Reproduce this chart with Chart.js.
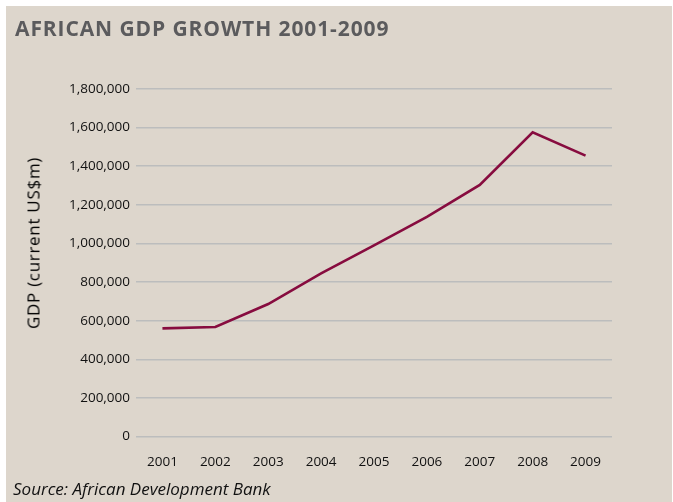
<!DOCTYPE html>
<html>
<head>
<meta charset="utf-8">
<script src="https://cdn.jsdelivr.net/npm/chart.js@4/dist/chart.umd.min.js"></script>
<style>
    html, body { margin: 0; padding: 0; background: #ffffff; }
    #wrap { position: relative; width: 673px; height: 502px; overflow: hidden; }
    #panel { position: absolute; left: 6px; top: 6px; right: 1px; bottom: 0; background: #ddd6cc; }
    #chart { position: absolute; left: 0; top: 0; }
    .title { position: absolute; left: 15px; top: 14px; font: bold 21px "Open Sans", sans-serif; color: #5b5b5d; letter-spacing: 0.9px; }
    .ytitle { position: absolute; left: 33px; top: 243px; font-family: "Open Sans", sans-serif; font-size: 17px; font-weight: normal;
              color: #000; letter-spacing: 0.7px; transform: translate(-50%, -50%) rotate(-90deg); white-space: nowrap; }
    .source { position: absolute; left: 13px; top: 480px; font: italic 17px/1 "Open Sans", sans-serif; color: #111; }
</style>
</head>
<body>
<div id="wrap">
    <div id="panel"></div>
    <canvas id="chart" width="673" height="502"></canvas>
    <div class="title">AFRICAN GDP GROWTH 2001-2009</div>
    <div class="ytitle">GDP (current US$m)</div>
    <div class="source">Source: African Development Bank</div>
</div>
<script>
    // years on the x axis
    var years = ['2001', '2002', '2003', '2004', '2005', '2006', '2007', '2008', '2009'];
    // GDP, current US$ millions
    var gdp = [560000, 567000, 686000, 845000, 990000, 1138000, 1303000, 1576000, 1455000];
    // y axis range
    var yMin = 0;
    var yMax = 1800000;
    var yStep = 200000;

    var ctx = document.getElementById('chart').getContext('2d');
    var chart = new Chart(ctx, {
        type: 'line',
        data: {
            labels: years,
            datasets: [{
                label: 'GDP',
                data: gdp,
                borderColor: '#870c3f',
                borderWidth: 2.6,
                pointRadius: 0,
                tension: 0,
                fill: false
            }]
        },
        options: {
            responsive: false,
            animation: false,
            layout: {
                padding: { left: 0, right: 61, top: 89, bottom: 20.5 }
            },
            plugins: {
                legend: { display: false },
                tooltip: { enabled: false }
            },
            scales: {
                x: {
                    offset: true,
                    border: { display: false },
                    grid: { display: false, drawTicks: false },
                    ticks: {
                        padding: 18,
                        color: '#111',
                        font: { family: 'Open Sans', size: 13.5 }
                    },
                    // labels are clipped to the scale box, so keep it tall enough
                    afterFit: function (scale) { scale.height = 45; }
                },
                y: {
                    min: yMin,
                    max: yMax,
                    border: { display: false },
                    grid: { color: '#bcbdbd', lineWidth: 1.5, drawTicks: false },
                    ticks: {
                        stepSize: yStep,
                        padding: 6,
                        color: '#111',
                        font: { family: 'Open Sans', size: 13.5 },
                        callback: function (value) {
                            return value.toLocaleString('en-US');
                        }
                    },
                    afterFit: function (scale) { scale.width = 136; }
                }
            }
        }
    });
</script>
</body>
</html>
